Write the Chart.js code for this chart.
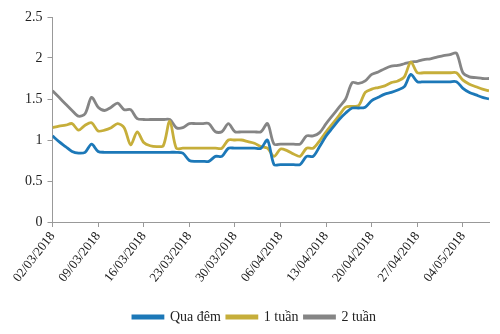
<!DOCTYPE html>
<html lang="vi">
<head>
  <meta charset="UTF-8">
  <title>Lãi suất liên ngân hàng</title>
  <script src="https://cdn.jsdelivr.net/npm/chart.js"></script>
  <style>
    body {
      margin: 0;
      background: #fff;
    }
    #wrap {
      width: 500px;
      height: 334px;
    }
  </style>
</head>
<body>
  <div id="wrap"><canvas id="laiSuat"></canvas></div>

  <script>
    // nhãn trục ngang, mỗi nhãn cách nhau 7 ngày (tính từ 02/03/2018)
    const tickDates = ["02/03/2018", "09/03/2018", "16/03/2018", "23/03/2018", "30/03/2018",
                       "06/04/2018", "13/04/2018", "20/04/2018", "27/04/2018", "04/05/2018"];

    // lãi suất theo từng ngày, 02/03/2018 -> 08/05/2018 (%)
    const quaDem = [
      1.05, 0.98, 0.92, 0.86, 0.84, 0.85, 0.95, 0.86, 0.85, 0.85,
      0.85, 0.85, 0.85, 0.85, 0.85, 0.85, 0.85, 0.85, 0.85, 0.85,
      0.84, 0.75, 0.74, 0.74, 0.74, 0.80, 0.80, 0.90, 0.90, 0.90,
      0.90, 0.90, 0.90, 1.00, 0.70, 0.70, 0.70, 0.70, 0.70, 0.80,
      0.80, 0.92, 1.05, 1.15, 1.25, 1.33, 1.39, 1.39, 1.40, 1.48,
      1.52, 1.56, 1.58, 1.61, 1.65, 1.80, 1.71, 1.71, 1.71, 1.71,
      1.71, 1.71, 1.71, 1.63, 1.58, 1.55, 1.52, 1.50
    ];
    const motTuan = [
      1.15, 1.17, 1.18, 1.20, 1.12, 1.18, 1.21, 1.11, 1.12, 1.15,
      1.20, 1.15, 0.94, 1.10, 0.97, 0.93, 0.92, 0.93, 1.23, 0.90,
      0.90, 0.90, 0.90, 0.90, 0.90, 0.90, 0.90, 1.00, 1.00, 1.00,
      0.98, 0.96, 0.92, 0.90, 0.80, 0.89, 0.87, 0.83, 0.80, 0.90,
      0.90, 0.99, 1.10, 1.20, 1.30, 1.40, 1.41, 1.42, 1.58, 1.62,
      1.64, 1.66, 1.70, 1.72, 1.77, 1.95, 1.82, 1.82, 1.82, 1.82,
      1.82, 1.82, 1.82, 1.73, 1.68, 1.65, 1.62, 1.60
    ];
    const haiTuan = [
      1.60, 1.52, 1.44, 1.36, 1.29, 1.32, 1.52, 1.40, 1.36, 1.40,
      1.45, 1.37, 1.37, 1.26, 1.25, 1.25, 1.25, 1.25, 1.25, 1.15,
      1.15, 1.20, 1.20, 1.20, 1.20, 1.10, 1.10, 1.20, 1.10, 1.10,
      1.10, 1.10, 1.10, 1.20, 0.95, 0.95, 0.95, 0.95, 0.95, 1.05,
      1.05, 1.09, 1.20, 1.30, 1.40, 1.50, 1.70, 1.69, 1.72, 1.80,
      1.83, 1.87, 1.90, 1.91, 1.93, 1.95, 1.96, 1.98, 1.99, 2.01,
      2.03, 2.04, 2.06, 1.82, 1.77, 1.76, 1.75, 1.75
    ];

    const serif = "'Liberation Serif', 'DejaVu Serif', serif";

    function toPoints(arr) {
      return arr.map((v, i) => ({ x: i, y: v }));
    }

    function series(label, arr, color) {
      return {
        label: label,
        data: toPoints(arr),
        borderColor: color,
        backgroundColor: color,
        borderWidth: 2.8,
        pointRadius: 0,
        tension: 0.3,
        fill: false
      };
    }

    const ctx = document.getElementById("laiSuat").getContext("2d");
    const chart = new Chart(ctx, {
      type: "line",
      data: {
        datasets: [
          series("Qua đêm", quaDem, "#1c78b8"),
          series("1 tuần", motTuan, "#c6ae3a"),
          series("2 tuần", haiTuan, "#858585")
        ]
      },
      options: {
        responsive: true,
        maintainAspectRatio: false,
        animation: false,
        layout: { padding: { left: 20, right: 11, top: 17, bottom: 0 } },
        plugins: {
          tooltip: { enabled: false },
          legend: {
            position: "bottom",
            labels: {
              boxWidth: 30,
              boxHeight: 2,
              padding: 6,
              color: "#222",
              font: { family: serif, size: 14, lineHeight: 1 }
            }
          }
        },
        scales: {
          x: {
            type: "linear",
            min: 0,
            max: 67,
            afterBuildTicks: axis => {
              axis.ticks = tickDates.map((_, i) => ({ value: i * 7 }));
            },
            afterFit: axis => { axis.height = 82; },
            ticks: {
              autoSkip: false,
              minRotation: 52,
              maxRotation: 52,
              padding: 2,
              color: "#222",
              font: { family: serif, size: 13 },
              callback: v => tickDates[Math.round(v / 7)]
            },
            grid: { drawOnChartArea: false, drawTicks: true, tickLength: 5, color: "#999" },
            border: { color: "#999" }
          },
          y: {
            min: 0,
            max: 2.5,
            ticks: {
              stepSize: 0.5,
              padding: 5,
              color: "#222",
              font: { family: serif, size: 14 },
              callback: v => String(v)
            },
            grid: { drawOnChartArea: false, drawTicks: true, tickLength: 5, color: "#999" },
            border: { color: "#999" }
          }
        }
      }
    });
  </script>
</body>
</html>
